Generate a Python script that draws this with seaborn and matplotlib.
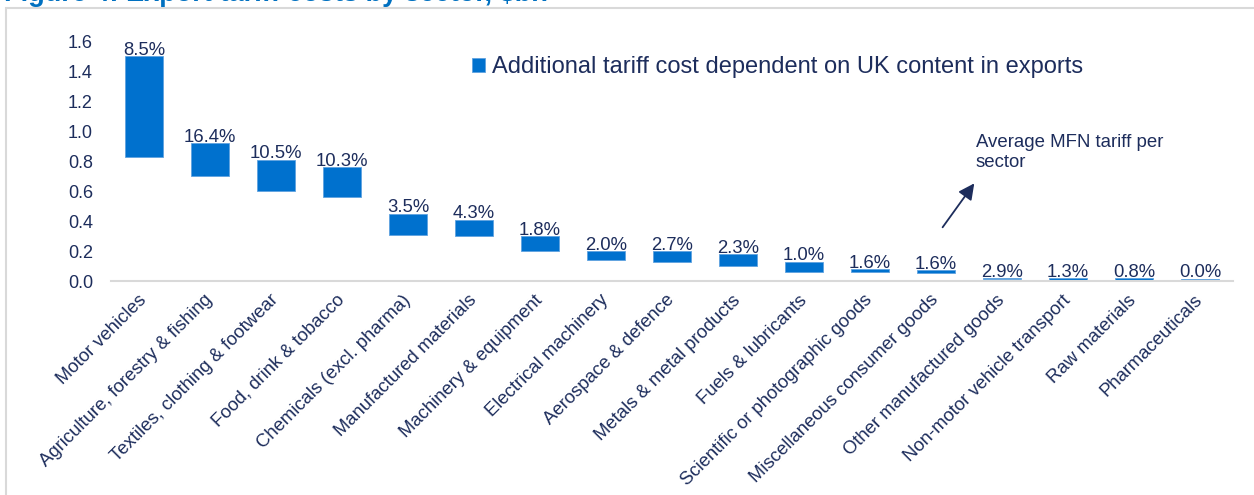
import matplotlib
matplotlib.use("Agg")
import matplotlib.pyplot as plt
from matplotlib.patches import Rectangle
import seaborn as sns
import pandas as pd

# ---- data ----
sectors = [
    "Motor vehicles",
    "Agriculture, forestry & fishing",
    "Textiles, clothing & footwear",
    "Food, drink & tobacco",
    "Chemicals (excl. pharma)",
    "Manufactured materials",
    "Machinery & equipment",
    "Electrical machinery",
    "Aerospace & defence",
    "Metals & metal products",
    "Fuels & lubricants",
    "Scientific or photographic goods",
    "Miscellaneous consumer goods",
    "Other manufactured goods",
    "Non-motor vehicle transport",
    "Raw materials",
    "Pharmaceuticals",
]
cost_low = [0.83, 0.70, 0.60, 0.56, 0.31, 0.30, 0.20, 0.14, 0.13, 0.10, 0.06,
            0.06, 0.055, 0.012, 0.010, 0.010, 0.010]
cost_high = [1.50, 0.92, 0.81, 0.76, 0.45, 0.41, 0.30, 0.20, 0.20, 0.18, 0.13,
             0.08, 0.075, 0.022, 0.018, 0.017, 0.016]
mfn_tariff = [8.5, 16.4, 10.5, 10.3, 3.5, 4.3, 1.8, 2.0, 2.7, 2.3, 1.0,
              1.6, 1.6, 2.9, 1.3, 0.8, 0.0]
y_ticks = [0.0, 0.2, 0.4, 0.6, 0.8, 1.0, 1.2, 1.4, 1.6]
legend_label = "Additional tariff cost dependent on UK content in exports"
title = "Figure 4: Export tariff costs by sector, $bn"
note = "Average MFN tariff per\nsector"

# ---- style ----
sns.set_theme(style="white")
plt.rcParams["font.family"] = ["Liberation Sans", "DejaVu Sans"]
NAVY = "#1d2d5c"
BLUE = "#0071CE"

df = pd.DataFrame({"sector": sectors,
                   "low": cost_low,
                   "high": cost_high,
                   "mfn": mfn_tariff})
df["span"] = df["high"] - df["low"]

W, H = 1254, 495
fig = plt.figure(figsize=(W / 100, H / 100), dpi=100)
ax = fig.add_axes([111 / W, 1 - 281 / H, (1233 - 111) / W, (281 - 41) / H])

sns.barplot(data=df, x="sector", y="span", color=BLUE, saturation=1,
            width=0.59, ax=ax, label=legend_label,
            edgecolor="#5fa2e0", linewidth=0.6)
# floating bars: move each bar to start at its low value
for patch, lo, sp in zip(ax.patches, df["low"], df["span"]):
    patch.set_y(lo)
    patch.set_height(sp)

# percentage labels above bars
for i, (hi, m) in enumerate(zip(df["high"], df["mfn"])):
    ax.annotate(f"{m:.1f}%", xy=(i, hi), xytext=(0, 0.8),
                textcoords="offset points", ha="center", va="baseline",
                fontsize=13.3, color=NAVY)

ax.set_xlim(-0.5, len(sectors) - 0.5)
ax.set_ylim(0, 1.6)
ax.set_yticks(y_ticks)
ax.set_yticklabels([f"{v:.1f}" for v in y_ticks])
ax.set_xlabel("")
ax.set_ylabel("")
ax.set_xticks(range(len(sectors)))
ax.set_xticklabels(sectors, rotation=45, ha="right", va="center",
                   rotation_mode="anchor")
ax.tick_params(axis="x", length=0, pad=12, labelsize=13.3, labelcolor=NAVY)
ax.tick_params(axis="y", length=0, pad=13, labelsize=13, labelcolor=NAVY)
for s in ["left", "top", "right"]:
    ax.spines[s].set_visible(False)
ax.spines["bottom"].set_color("#D9D9D9")
ax.spines["bottom"].set_linewidth(1.5)
ax.grid(False)

# legend
leg = ax.legend(loc="center left", bbox_to_anchor=(451 / W, 1 - 67 / H),
                bbox_transform=fig.transFigure, frameon=False, fontsize=17,
                handlelength=0.55, handleheight=0.55, handletextpad=0.3,
                labelcolor=NAVY)

# annotation arrow and text
ax.annotate("", xy=(12.58, 0.651), xytext=(12.10, 0.358),
            arrowprops=dict(arrowstyle="-|>", color=NAVY, lw=1.3,
                            mutation_scale=24, shrinkA=0, shrinkB=0))
ax.text(12.60, 0.857, note, ha="left", va="center", fontsize=13.4,
        color=NAVY, linespacing=1.2)

# title (cropped at the top as in the source image) and frame
fig.text(4 / W, 1 - 1 / H, title, ha="left", va="baseline", fontsize=19.5,
         fontweight="bold", color="#0070C0")
fig.patches.append(Rectangle((6 / W, -0.2), 1.2, 1.2 - 8 / H,
                             transform=fig.transFigure, fill=False,
                             edgecolor="#D9D9D9", lw=1.5, zorder=0))

fig.savefig("out.png", dpi=100)
